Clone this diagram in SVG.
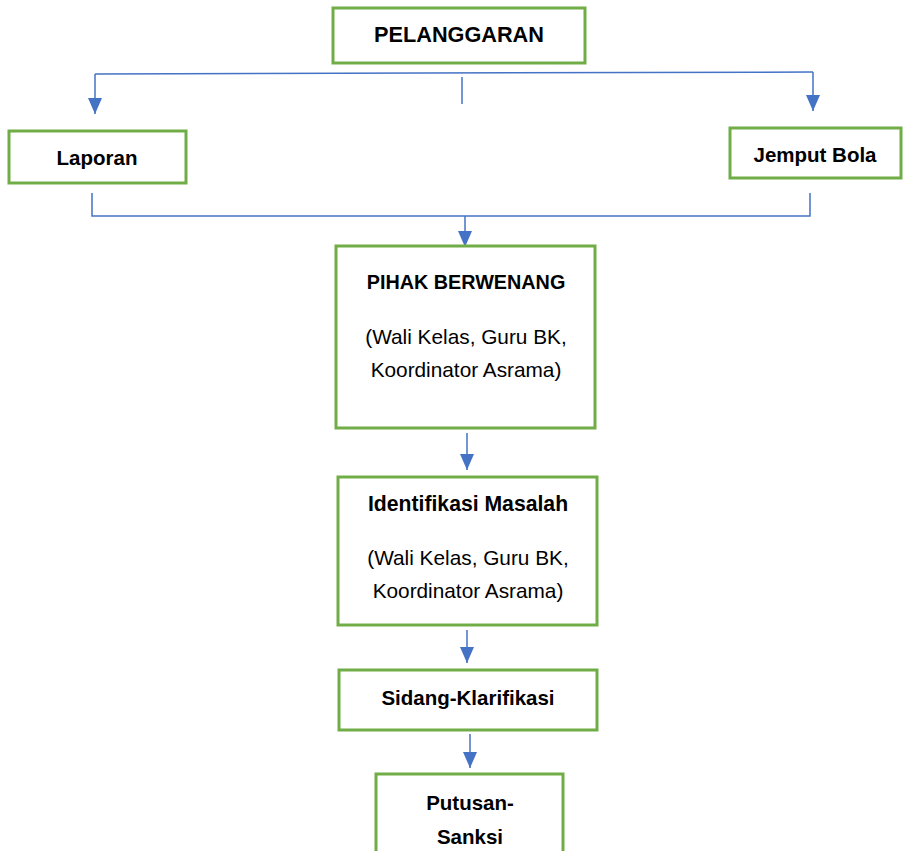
<svg xmlns="http://www.w3.org/2000/svg" width="903" height="851" viewBox="0 0 903 851">
<style>
.box{fill:#fff;stroke:#70AD47;stroke-width:3}
.c{fill:none;stroke:#4472C4;stroke-width:1.5}
text{font-family:"Liberation Sans",Arial,sans-serif;font-size:20.8px;fill:#000;text-anchor:middle}
.b{font-weight:bold;font-size:20.5px}
</style>
<defs>
<marker id="ah" markerWidth="16" markerHeight="14" refX="16" refY="7" orient="auto" markerUnits="userSpaceOnUse" viewBox="0 0 16 14">
<path d="M0,0 L16,7 L0,14 Z" fill="#4472C4"/>
</marker>
</defs>
<rect width="903" height="851" fill="#fff"/>
<g id="connectors">
<path class="c" d="M95,74 L813,72"/>
<path class="c" d="M95,74 L95,114" marker-end="url(#ah)"/>
<path class="c" d="M813,72 L813,111" marker-end="url(#ah)"/>
<path class="c" d="M462,77 L462,104"/>
<path class="c" d="M92,193 L92,216 L810,216 L810,193"/>
<path class="c" d="M465,216 L465,247" marker-end="url(#ah)"/>
<path class="c" d="M467,433 L467,470" marker-end="url(#ah)"/>
<path class="c" d="M467,630 L467,663" marker-end="url(#ah)"/>
<path class="c" d="M470,734 L470,768" marker-end="url(#ah)"/>
</g>
<g id="pelanggaran">
<rect class="box" x="333" y="8" width="252" height="55"/>
<text class="b" x="459" y="42" style="font-size:21.7px">PELANGGARAN</text>
</g>
<g id="laporan">
<rect class="box" x="9" y="131" width="177" height="52"/>
<text class="b" x="97" y="165">Laporan</text>
</g>
<g id="jemput">
<rect class="box" x="730" y="128" width="171" height="50"/>
<text class="b" x="815" y="162">Jemput Bola</text>
</g>
<g id="pihak">
<rect class="box" x="336" y="246" width="259" height="182"/>
<text class="b" x="466" y="289" style="font-size:19.8px">PIHAK BERWENANG</text>
<text x="466" y="344">(Wali Kelas, Guru BK,</text>
<text x="466" y="377">Koordinator Asrama)</text>
</g>
<g id="identifikasi">
<rect class="box" x="338" y="477" width="259" height="148"/>
<text class="b" x="468" y="511" style="font-size:21.2px">Identifikasi Masalah</text>
<text x="468" y="565">(Wali Kelas, Guru BK,</text>
<text x="468" y="598">Koordinator Asrama)</text>
</g>
<g id="sidang">
<rect class="box" x="339" y="670" width="258" height="60"/>
<text class="b" x="468" y="705">Sidang-Klarifikasi</text>
</g>
<g id="putusan">
<rect class="box" x="376" y="774" width="187" height="90"/>
<text class="b" x="470" y="810">Putusan-</text>
<text class="b" x="470" y="844">Sanksi</text>
</g>
</svg>
